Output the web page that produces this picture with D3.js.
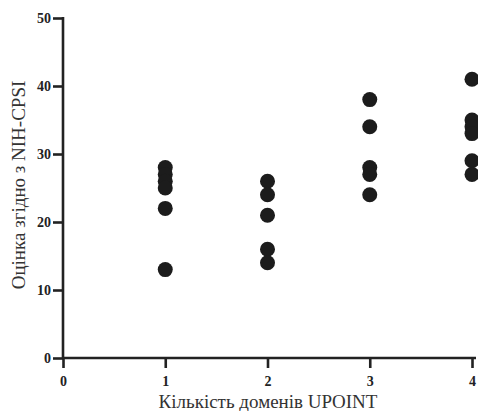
<!DOCTYPE html>
<html>
<head>
<meta charset="utf-8">
<script src="https://cdn.jsdelivr.net/npm/d3@7"></script>
<style>
  body { margin: 0; background: #fff; }
  .axis path, .axis line { stroke: #222; stroke-width: 2.6px; }
  .axis text { font-family: "Liberation Serif", "Times New Roman", serif; font-weight: bold; font-size: 14px; fill: #222; }
  .title { font-family: "Liberation Serif", "Times New Roman", serif; font-size: 19px; fill: #333; }
</style>
</head>
<body>
<svg id="chart"></svg>
<script>
// domain counts (x) and NIH-CPSI scores
var groups = [1, 2, 3, 4];
var scores1 = [28, 27, 26, 25, 22, 13];
var scores2 = [26, 24, 21, 16, 14];
var scores3 = [38, 34, 28, 27, 24];
var scores4 = [41, 35, 34, 33, 29, 27];
var xTicks = [0, 1, 2, 3, 4];
var yTicks = [0, 10, 20, 30, 40, 50];

var WIDTH = 478,
    HEIGHT = 411;

var svg = d3.select("#chart")
    .attr("width", WIDTH)
    .attr("height", HEIGHT);

var x = d3.scaleLinear().domain([0, 4]).range([63, 472]);
var y = d3.scaleLinear().domain([0, 50]).range([358, 18]);

var points = [];
[scores1, scores2, scores3, scores4].forEach(function(s, i) {
  s.forEach(function(v) { points.push({ g: groups[i], v: v }); });
});

var yAxis = svg.append("g")
    .attr("class", "axis")
    .attr("transform", "translate(" + x(0) + ",0)")
    .call(d3.axisLeft(y).tickValues(yTicks).tickFormat(d3.format("d"))
      .tickSize(10).tickSizeOuter(0).tickPadding(2));
yAxis.attr("font-family", null);
yAxis.select(".domain")
    .attr("d", "M0," + (y(50) - 1) + "V" + (y(0) + 1));

var xAxis = svg.append("g")
    .attr("class", "axis")
    .attr("transform", "translate(0," + y(0) + ")")
    .call(d3.axisBottom(x).tickValues(xTicks).tickFormat(d3.format("d"))
      .tickSize(10).tickSizeOuter(0).tickPadding(8));
xAxis.attr("font-family", null);
xAxis.select(".domain")
    .attr("d", "M" + (x(0) - 1) + ",0H" + (x(4) + 4));

svg.selectAll(".dot")
    .data(points)
  .enter().append("circle")
    .attr("class", "dot")
    .attr("cx", function(d) { return x(d.g); })
    .attr("cy", function(d) { return y(d.v); })
    .attr("r", 7.5)
    .style("fill", "#1c1c1c");

svg.append("text")
    .attr("class", "title")
    .attr("text-anchor", "middle")
    .attr("x", 268)
    .attr("y", 408)
    .text("Кількість доменів UPOINT");

svg.append("text")
    .attr("class", "title")
    .attr("text-anchor", "middle")
    .attr("transform", "translate(25,185)rotate(-90)")
    .text("Оцінка згідно з NIH-CPSI");
</script>
</body>
</html>
